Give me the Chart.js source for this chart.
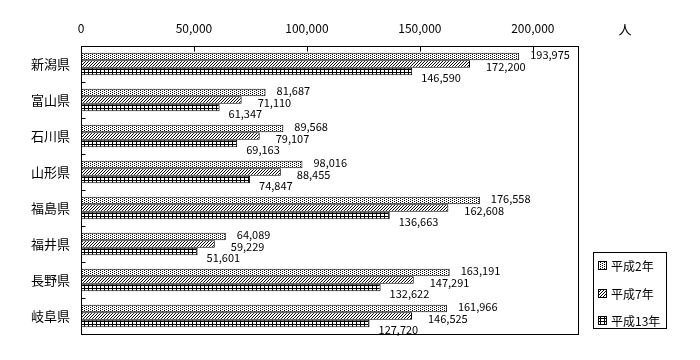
<!DOCTYPE html>
<html><head><meta charset="utf-8">
<script src="https://cdn.jsdelivr.net/npm/chart.js@4/dist/chart.umd.min.js"></script>
<style>html,body{margin:0;padding:0;background:#fff;}#wrap{width:700px;height:360px;}</style>
</head><body><div id="wrap"><canvas id="c" width="700" height="360"></canvas></div>
<script>
const categories = ['新潟県','富山県','石川県','山形県','福島県','福井県','長野県','岐阜県'];
const seriesNames = ['平成2年','平成7年','平成13年'];
const h2  = [193975, 81687, 89568, 98016, 176558, 64089, 163191, 161966];
const h7  = [172200, 71110, 79107, 88455, 162608, 59229, 147291, 146525];
const h13 = [146590, 61347, 69163, 74847, 136663, 51601, 132622, 127720];
const xTicks = [0, 50000, 100000, 150000, 200000];
const unitLabel = '人';

const FONT = '"Noto Sans CJK JP", "Noto Sans", sans-serif';

function makePattern(w, h, pixels) {
  const c = document.createElement('canvas');
  c.width = w; c.height = h;
  const x = c.getContext('2d');
  x.fillStyle = '#fff'; x.fillRect(0, 0, w, h);
  x.fillStyle = '#000';
  pixels.forEach(p => x.fillRect(p[0], p[1], 1, 1));
  return document.getElementById('c').getContext('2d').createPattern(c, 'repeat');
}
const patDots = makePattern(4, 2, [[0,0],[2,1]]);
const patHatch = makePattern(3, 3, [[0,2],[1,1],[2,0]]);
const patGrid = makePattern(4, 3, [[0,0],[1,0],[2,0],[3,0],[0,1],[0,2]]);
const patterns = [patDots, patHatch, patGrid];
const labelOffsets = [[11,-2],[16,3],[9,6]];

const fmt = v => v.toLocaleString('en-US');

const overlay = {
  id: 'overlay',
  afterDraw(chart) {
    const ctx = chart.ctx;
    const a = chart.chartArea;
    const xs = chart.scales.x, ys = chart.scales.y;
    ctx.save();
    ctx.strokeStyle = '#000'; ctx.lineWidth = 1;
    const L = Math.round(a.left) + 0.5, R = Math.round(a.right) + 0.5;
    const T = Math.round(a.top) + 0.5, B = Math.round(a.bottom) + 0.5;
    ctx.strokeRect(L, T, R - L, B - T);
    ctx.beginPath();
    xTicks.forEach(v => {
      if (v === 0) return;
      const px = Math.round(xs.getPixelForValue(v)) + 0.5;
      ctx.moveTo(px, T); ctx.lineTo(px, T + 5);
    });
    for (let i = 1; i < categories.length; i++) {
      const py = Math.round((ys.getPixelForValue(i - 1) + ys.getPixelForValue(i)) / 2) + 0.5;
      ctx.moveTo(L, py); ctx.lineTo(L + 4, py);
    }
    ctx.stroke();
    ctx.fillStyle = '#000';
    ctx.font = '11px ' + FONT;
    ctx.textBaseline = 'middle';
    ctx.textAlign = 'left';
    chart.data.datasets.forEach((ds, di) => {
      const meta = chart.getDatasetMeta(di);
      meta.data.forEach((el, i) => {
        const o = labelOffsets[di];
        ctx.fillText(fmt(ds.data[i]), el.x + o[0], el.y + o[1]);
      });
    });
    ctx.font = '13px ' + FONT;
    ctx.textAlign = 'center';
    ctx.fillText(unitLabel, 625, 29);
    ctx.strokeRect(593.5, 252.5, 73, 76);
    const ly = [265, 293, 320];
    ctx.textAlign = 'left';
    ctx.font = '12px ' + FONT;
    seriesNames.forEach((n, i) => {
      ctx.fillStyle = patterns[i];
      ctx.fillRect(598, ly[i] - 4, 9, 9);
      ctx.strokeRect(598.5, ly[i] - 4 + 0.5, 8, 8);
      ctx.fillStyle = '#000';
      ctx.fillText(n, 611, ly[i] + 1);
    });
    ctx.restore();
  }
};

const data = {
  labels: categories,
  datasets: [h2, h7, h13].map((arr, i) => ({
    label: seriesNames[i],
    data: arr,
    backgroundColor: patterns[i],
    borderColor: '#000',
    borderWidth: 1,
    borderSkipped: 'start',
    categoryPercentage: 0.63,
    barPercentage: 1.0
  }))
};

new Chart(document.getElementById('c'), {
  type: 'bar',
  data,
  options: {
    indexAxis: 'y',
    responsive: false,
    animation: false,
    layout: { padding: { left: 0, top: 0, right: 122, bottom: 26 } },
    plugins: { legend: { display: false }, tooltip: { enabled: false } },
    scales: {
      x: {
        position: 'top',
        min: 0, max: 220000,
        grid: { display: false, drawTicks: false },
        border: { display: false },
        ticks: { stepSize: 50000, color: '#000', font: { size: 12, family: FONT }, padding: 10, callback: v => fmt(v) },
        afterBuildTicks: s => { s.ticks = xTicks.map(v => ({ value: v })); },
        afterFit: s => { s.height = 46; }
      },
      y: {
        grid: { display: false, drawTicks: false },
        border: { display: false },
        ticks: { color: '#000', font: { size: 13, family: FONT }, padding: 11 },
        afterFit: s => { s.width = 81; }
      }
    }
  },
  plugins: [overlay]
});
</script></body></html>
